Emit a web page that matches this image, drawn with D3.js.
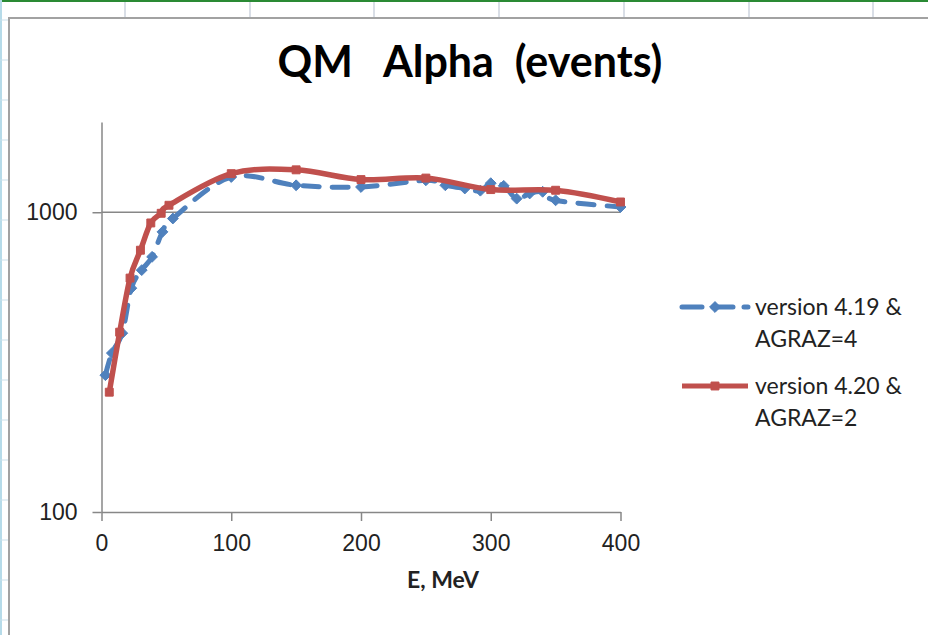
<!DOCTYPE html>
<html lang="en">
<head>
  <meta charset="UTF-8">
  <title>QM Alpha (events)</title>
  <style>
    body { margin: 0; background: #fff; }
    svg { display: block; font-family: Lato, "Open Sans", sans-serif; }
    .axis path, .axis line { stroke: #878787; stroke-width: 1.5; }
    .axis text { font-size: 23px; fill: #222; }
  </style>
</head>
<body>
  <svg id="chart" width="928" height="635"></svg>

  <script src="https://cdn.jsdelivr.net/npm/d3@7"></script>
  <script>
    // version 4.19 & AGRAZ=4
    const energyA = [3, 8, 16, 23, 31, 39, 47, 55, 100, 150, 200, 250, 265, 280, 292, 300, 310, 320, 330, 340, 350, 400];
    const eventsA = [286, 339, 395, 558, 641, 710, 860, 953, 1311, 1230, 1214, 1278, 1230, 1200, 1180, 1250, 1225, 1110, 1155, 1170, 1096, 1041];

    // version 4.20 & AGRAZ=2
    const energyB = [6, 14, 22, 30, 38, 46, 52, 100, 150, 200, 250, 300, 350, 400];
    const eventsB = [251, 398, 603, 747, 921, 992, 1055, 1345, 1385, 1285, 1300, 1190, 1184, 1082];

    const xTicks = [0, 100, 200, 300, 400];
    const yTicks = [100, 1000];
    const seriesNames = [["version 4.19 &", "AGRAZ=4"], ["version 4.20 &", "AGRAZ=2"]];

    const blue = "#4f81bd", red = "#c0504d";
    const svg = d3.select("#chart");

    // spreadsheet behind the chart object
    svg.append("rect").attr("x", 0).attr("y", 0).attr("width", 928).attr("height", 2).attr("fill", "#2a8a34");
    svg.selectAll(".col").data([125, 250, 374, 499, 624, 749, 873]).join("line")
      .attr("x1", d => d).attr("x2", d => d).attr("y1", 2).attr("y2", 17)
      .attr("stroke", "#cdd3de").attr("stroke-width", 1.5);
    svg.append("line").attr("x1", 1).attr("x2", 1).attr("y1", 0).attr("y2", 635)
      .attr("stroke", "#b6dbe9").attr("stroke-width", 2);
    svg.selectAll(".row").data(d3.range(20, 635, 40)).join("line")
      .attr("x1", 0).attr("x2", 8).attr("y1", d => d).attr("y2", d => d)
      .attr("stroke", "#c9dfea").attr("stroke-width", 1);

    // chart frame
    svg.append("rect").attr("x", 9).attr("y", 18).attr("width", 1000).attr("height", 700)
      .attr("fill", "#fff").attr("stroke", "#a2a2a2").attr("stroke-width", 2);

    const x = d3.scaleLinear().domain([0, 400]).range([101.5, 620.5]);
    const y = d3.scaleLog().domain([100, 2000]).range([512, 122]);

    // title
    svg.append("text")
      .attr("x", 470).attr("y", 77)
      .attr("text-anchor", "middle")
      .attr("font-size", 43).attr("font-weight", "bold").attr("fill", "#000")
      .style("white-space", "pre")
      .text("QM   Alpha  (events)");

    // gridline at 1000
    svg.append("line")
      .attr("x1", x(0)).attr("x2", x(400)).attr("y1", y(1000)).attr("y2", y(1000))
      .attr("stroke", "#878787").attr("stroke-width", 1.5);

    svg.append("g").attr("class", "axis")
      .attr("transform", `translate(${x(0)},0)`)
      .call(d3.axisLeft(y).tickValues(yTicks).tickFormat(d3.format("d")).tickSize(9).tickSizeOuter(0).tickPadding(15));

    svg.append("g").attr("class", "axis")
      .attr("transform", `translate(0,${y(100)})`)
      .call(d3.axisBottom(x).tickValues(xTicks).tickSize(9).tickSizeOuter(0).tickPadding(14));

    svg.append("text")
      .attr("x", 443).attr("y", 588).attr("text-anchor", "middle")
      .attr("font-size", 23).attr("font-weight", "bold").attr("fill", "#222")
      .text("E, MeV");

    const line = d3.line().x(d => x(d[0])).y(d => y(d[1])).curve(d3.curveCardinal.tension(0));
    const ptsA = d3.zip(energyA, eventsA);
    const ptsB = d3.zip(energyB, eventsB);

    const diamond = d3.symbol().type(d3.symbolDiamond2).size(75);
    const square = d3.symbol().type(d3.symbolSquare2).size(80);

    // blue series: dashed with diamonds
    svg.append("path").datum(ptsA).attr("d", line)
      .attr("fill", "none").attr("stroke", blue).attr("stroke-width", 5)
      .attr("stroke-dasharray", "16,13").attr("stroke-linecap", "round");
    svg.selectAll(".mA").data(ptsA).join("path")
      .attr("transform", d => `translate(${x(d[0])},${y(d[1])})`)
      .attr("d", diamond).attr("fill", blue).attr("stroke", blue).attr("stroke-width", 1);

    // red series: solid with squares
    svg.append("path").datum(ptsB).attr("d", line)
      .attr("fill", "none").attr("stroke", red).attr("stroke-width", 5.5).attr("stroke-linejoin", "round");
    svg.selectAll(".mB").data(ptsB).join("path")
      .attr("transform", d => `translate(${x(d[0])},${y(d[1])})`)
      .attr("d", square).attr("fill", red).attr("stroke", red).attr("stroke-width", 1);

    // legend
    const legend = svg.append("g");
    const keyY = [307, 386];
    [blue, red].forEach((c, i) => {
      const g = legend.append("g").attr("transform", `translate(0,${keyY[i]})`);
      g.append("line").attr("x1", 682).attr("x2", 748).attr("y1", 0).attr("y2", 0)
        .attr("stroke", c).attr("stroke-width", 5)
        .attr("stroke-dasharray", i === 0 ? "20,11" : null)
        .attr("stroke-linecap", i === 0 ? "round" : "butt");
      g.append("path").attr("transform", "translate(715,0)")
        .attr("d", i === 0 ? diamond : square).attr("fill", c).attr("stroke", c);
      seriesNames[i].forEach((t, j) => {
        g.append("text").attr("x", 755).attr("y", 8 + j * 32)
          .attr("font-size", 23).attr("fill", "#222").text(t);
      });
    });
  </script>
</body>
</html>
